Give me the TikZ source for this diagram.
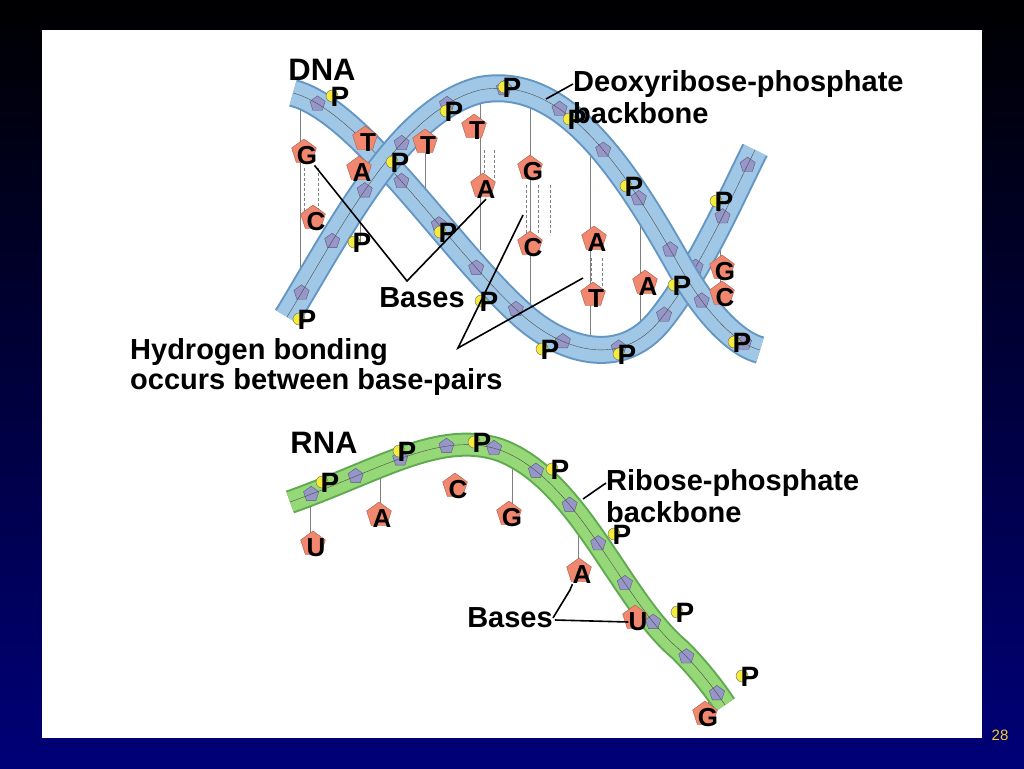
\documentclass[tikz,border=0pt]{standalone}
\usepackage{fontspec}
\setmainfont{Liberation Sans}
\usetikzlibrary{shapes.geometric,decorations.markings}
\definecolor{ribbonblue}{RGB}{160,200,230}
\definecolor{ribbonedge}{RGB}{100,150,195}
\definecolor{ribbongreen}{RGB}{150,215,120}
\definecolor{greenedge}{RGB}{95,170,80}
\definecolor{sugarcol}{RGB}{150,150,200}
\definecolor{basecol}{RGB}{240,135,110}
\definecolor{pyellow}{RGB}{245,235,60}
\definecolor{navy}{RGB}{0,0,120}
\begin{document}
\begin{tikzpicture}[x=1pt,y=-1pt,
  ptext/.style={font=\bfseries\fontsize{28}{28}\selectfont,inner sep=0},
  btext/.style={font=\bfseries\fontsize{26}{26}\selectfont,inner sep=0},
  lbl/.style={font=\bfseries\fontsize{29}{32}\selectfont,inner sep=0,anchor=west},
  pointer/.style={line width=1.6pt},
  pdot/.style={fill=pyellow,draw=black!60,thin},
  base_node/.style={regular polygon,regular polygon sides=5,fill=basecol,draw=basecol!70!black,line width=0.4pt,minimum size=26pt,inner sep=0},
  sugar/.style={regular polygon,regular polygon sides=5,fill=sugarcol,draw=sugarcol!60!black,line width=0.4pt,minimum size=16pt,inner sep=0},
  sugars/.style={postaction={decorate},decoration={markings,mark=between positions 0.04 and 0.98 step 0.085 with {\node[sugar]{};}}}]
\useasboundingbox (0,0) rectangle (1024,768);
\shade[top color=black,bottom color=navy] (0,0) rectangle (1024,768);
\fill[white] (42,30) rectangle (982,738);
\node[text=pyellow!70!orange,font=\fontsize{15}{15}\selectfont] (pg) at (1000,735) {28};

% bonds between the strands
\foreach \x/\ya/\yb in {300/95/318, 360/140/245, 425/140/220, 480/100/250, 590/130/352, 640/195/322, 720/200/340, 530/97/320}
  \draw[gray,thin] (\x,\ya) -- (\x,\yb);
\foreach \x/\ya/\yb in {304/168/212, 318/168/212, 484/150/180, 494/150/180, 526/185/235, 538/185/235, 550/185/235, 591/258/288, 602/258/288}
  \draw[gray,densely dashed] (\x,\ya) -- (\x,\yb);

% DNA strands
\draw[line width=28pt,ribbonedge] (293,93) .. controls (360,110) and (450,250) .. (520,313) .. controls (560,350) and (620,370) .. (660,320) .. controls (700,270) and (730,200) .. (755,150);
\draw[line width=24pt,ribbonblue,sugars] (293,93) .. controls (360,110) and (450,250) .. (520,313) .. controls (560,350) and (620,370) .. (660,320) .. controls (700,270) and (730,200) .. (755,150);
\draw[black!70,thin] (293,93) .. controls (360,110) and (450,250) .. (520,313) .. controls (560,350) and (620,370) .. (660,320) .. controls (700,270) and (730,200) .. (755,150);
\draw[line width=28pt,ribbonedge] (287,317) .. controls (340,230) and (400,110) .. (480,90) .. controls (560,75) and (620,160) .. (680,267) .. controls (710,320) and (740,345) .. (760,350);
\draw[line width=24pt,ribbonblue,sugars] (287,317) .. controls (340,230) and (400,110) .. (480,90) .. controls (560,75) and (620,160) .. (680,267) .. controls (710,320) and (740,345) .. (760,350);
\draw[black!70,thin] (287,317) .. controls (340,230) and (400,110) .. (480,90) .. controls (560,75) and (620,160) .. (680,267) .. controls (710,320) and (740,345) .. (760,350);

% RNA strand
\draw[gray,thin] (310,505) -- (310,540) (380,470) -- (380,510) (512,455) -- (512,510) (578,510) -- (578,565) (632,580) -- (632,615) (708,690) -- (708,712);
\draw[line width=24pt,greenedge] (290,502) .. controls (380,470) and (440,430) .. (500,450) .. controls (580,480) and (620,600) .. (680,650) .. controls (700,670) and (715,690) .. (725,705);
\draw[line width=20pt,ribbongreen,sugars] (290,502) .. controls (380,470) and (440,430) .. (500,450) .. controls (580,480) and (620,600) .. (680,650) .. controls (700,670) and (715,690) .. (725,705);
\draw[black!70,thin] (290,502) .. controls (380,470) and (440,430) .. (500,450) .. controls (580,480) and (620,600) .. (680,650) .. controls (700,670) and (715,690) .. (725,705);

% bases
\foreach \x/\y/\t [count=\i] in {307/156/G, 368/143/T, 428/146/T, 477/131/T, 362/173/A, 533/172/G, 486/190/A, 316/222/C, 533/248/C, 597/243/A, 725/272/G, 725/298/C, 648/287/A, 596/299/T,
  316/548/U, 382/519/A, 458/490/C, 512/518/G, 582/575/A, 638/622/U, 708/718/G}
{
  \node[base_node] at (\x-3,\y-4) {};
  \node[btext] (b\i) at (\x,\y) {\t};
}

% phosphates
\foreach \x/\y [count=\i] in {338/97, 510/88, 452/112, 575/120, 398/163, 632/187, 722/202, 360/243, 446/233, 487/302, 305/320, 548/350, 625/355, 740/343, 680/286,
  328/483, 405/452, 480/443, 558/470, 620/535, 683/613, 748/677}
{
  \fill[pdot] (\x-6,\y-1) circle (6);
  \node[ptext] (p\i) at (\x+2,\y) {P};
}

% labels
\node[font=\bfseries\fontsize{31}{31}\selectfont,inner sep=0] (dna) at (322,70) {DNA};
\node[font=\bfseries\fontsize{31}{31}\selectfont,inner sep=0] (rna) at (324,443) {RNA};
\node[lbl] (deoxy) at (573,84) {Deoxyribose-phosphate};
\node[lbl] (backbone1) at (573,113) {backbone};
\node[lbl,anchor=center] (bases1) at (422,298) {Bases};
\node[lbl] (hyd1) at (130,352) {Hydrogen bonding};
\node[lbl] (hyd2) at (130,382) {occurs between base-pairs};
\node[lbl] (ribose) at (606,483) {Ribose-phosphate};
\node[lbl] (backbone2) at (606,512) {backbone};
\node[lbl,anchor=center] (bases2) at (510,618) {Bases};

\coordinate (bj) at (407,281);
\coordinate (hj) at (458,348);
\draw[pointer] (b1) -- (bj) -- (b7.south);
\draw[pointer] (523,215) -- (hj) -- (583,278);
\draw[pointer] (deoxy.west) -- (546,99);
\draw[pointer] (ribose.west) -- (583,499);
\draw[pointer] (bases2.east) -- (570,590) -- (b19.south west);
\draw[pointer] (bases2.east) ++(2,2) -- (b20.west);
\end{tikzpicture}
\end{document}
